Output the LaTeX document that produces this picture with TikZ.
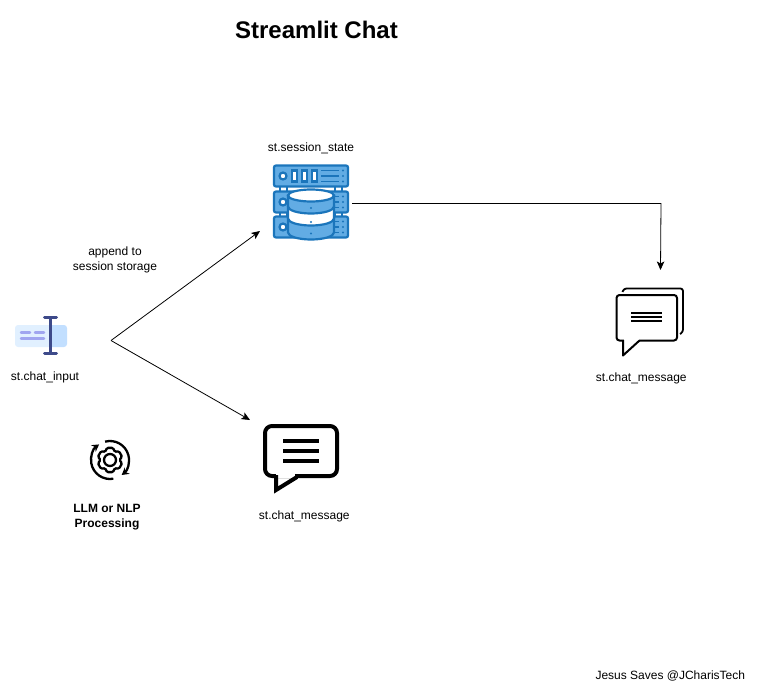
\documentclass[tikz,border=0pt]{standalone}
\usepackage{fontspec}
\setmainfont{Liberation Sans}
\usetikzlibrary{arrows.meta}
\definecolor{rackline}{HTML}{1B75BB}
\definecolor{rackfill}{HTML}{62ACE4}
\definecolor{inputlight}{HTML}{E1F0FF}
\definecolor{inputdark}{HTML}{C2DFFF}
\definecolor{inputbar}{HTML}{3D4A8A}
\definecolor{inputtext}{HTML}{A0A6F0}
\tikzset{
label text/.style = { black, font = \fontsize{12}{15}\selectfont, align = center, inner sep = 0pt },
spot/.style = { draw = none, fill = none, inner sep = 0pt, outer sep = 0pt },
flow/.style = { black, line width = 0.8pt, -{Stealth[length = 8.5pt, width = 7.5pt, inset = 2pt]} },
}
\tikzset{
pics/server/.style = {
        code = {
        \foreach \x in {-31, 24} {
            \path[draw = rackline, fill = white, line width = 1.5pt] (\x, -17) rectangle (\x + 7, -12);
            \path[draw = rackline, fill = white, line width = 1.5pt] (\x, 8) rectangle (\x + 7, 13);
        }
        \foreach \y in {-38, -12, 13} {
            \path[draw = rackline, fill = rackfill, line width = 2.2pt, rounded corners = 2pt] (-37, \y) rectangle (37, \y + 21);
            \path[draw = rackline, fill = white, line width = 2.2pt] (-28, \y + 10.5) circle (3.5);
            \foreach \x in {-19, -9, 1} {
                \path[draw = rackline, fill = white, line width = 2.2pt] (\x, \y + 5) rectangle (\x + 5, \y + 16);
            }
            \foreach \z in {5, 10.5, 16} {
                \path[draw = rackline, line width = 1.3pt] (10, \y + \z) -- (28, \y + \z);
                \path[fill = rackline] (32, \y + \z) circle (1.1);
            }
        }
        \path[draw = rackline, fill = rackfill, line width = 2.2pt] (-23, 14) -- (-23, 29) arc[start angle = 180, end angle = 0, x radius = 23, y radius = 7] -- (23, 14) -- cycle;
        \path[draw = rackline, fill = white, line width = 2.2pt] (-23, 3) -- (-23, 15) arc[start angle = 180, end angle = 0, x radius = 23, y radius = 7] -- (23, 3) -- cycle;
        \path[draw = rackline, fill = rackfill, line width = 2.2pt] (-23, -8) -- (-23, 3) arc[start angle = 180, end angle = 0, x radius = 23, y radius = 7] -- (23, -8) -- cycle;
        \path[draw = rackline, fill = white, line width = 2.2pt] (0, -8) ellipse (23 and 6);
        \foreach \y in {4.5, 18.5, 30} {
            \path[fill = rackline] (0, \y) circle (1.1);
        }
        }
    },
pics/input cursor/.style = {
        code = {
        \path[fill = inputlight, rounded corners = 3pt] (-26, -15) rectangle (10, 7);
        \path[fill = inputdark, rounded corners = 3pt] (5, -15) rectangle (26, 7);
        \path[fill = inputlight] (5, -15) rectangle (9, 7);
        \path[draw = inputtext, line width = 2.5pt, line cap = round] (-20, -7.5) -- (-11, -7.5) (-6, -7.5) -- (3, -7.5) (-20, -1.5) -- (3, -1.5);
        \path[draw = inputbar, line width = 3pt, line cap = round, line join = round] (9, -22) -- (9, 13) (3.5, -22.5) -- (15.5, -22.5) (3.5, 13) -- (15.5, 13);
        }
    },
pics/gear loop/.style = {
        code = {
        \path[draw = black, line width = 2.3pt, -{Stealth[length = 7pt, width = 8pt]}] (80:19) arc[start angle = 80, end angle = 235, radius = 19];
        \path[draw = black, line width = 2.3pt, -{Stealth[length = 7pt, width = 8pt]}] (255:19) arc[start angle = 255, end angle = 412, radius = 19];
        \path[draw = black, line width = 2.3pt, rounded corners = 1.2pt] (16:12.5) -- (44:12.5) \foreach \a in {60, 120, 180, 240, 300} { -- (\a:9.5) -- (\a + 16:12.5) -- (\a + 44:12.5) } -- (360:9.5) -- cycle;
        \path[draw = black, line width = 2.3pt] (0, 0) circle (6);
        }
    },
pics/big bubble/.style = {
        code = {
        \path[draw = black, line width = 4pt, line join = round, rounded corners = 7pt] (-36, -25) -- (36, -25) -- (36, 25) -- (-36, 25) -- cycle;
        \path[fill = white] (-25, 23) rectangle (-6, 27);
        \path[draw = black, line width = 4pt, line join = miter] (-25, 24) -- (-25, 39) -- (-4, 26);
        \foreach \y in {-10.3, -0.3, 9.7} {
            \path[draw = black, line width = 3.6pt] (-18, \y) -- (18, \y);
        }
        }
    },
pics/double bubble/.style = {
        code = {
        \path[draw = black, line width = 1.8pt, line join = round, rounded corners = 2.5pt] (-27.5, -30) -- (-26, -33.5) -- (33, -33.5) -- (33, 10) -- (30, 12);
        \path[draw = black, line width = 2pt, rounded corners = 3pt] (-33.5, -27) -- (27, -27) -- (27, 18.5) -- (-33.5, 18.5) -- cycle;
        \path[fill = white] (-26.5, 17) rectangle (-11, 20);
        \path[draw = black, line width = 2pt, line join = round] (-27, 18) -- (-27, 33.5) -- (-10.5, 18.5);
        \foreach \y in {-9, -5, -1} {
            \path[draw = black, line width = 1.8pt] (-19, \y) -- (12, \y);
        }
        }
    },
}
\begin{document}
\begin{tikzpicture}[x = 1pt, y = -1pt]
    \useasboundingbox (0, 0) rectangle (760, 690);
    % icons
    \node[spot, minimum width = 82pt, minimum height = 76pt] (sessionstate) at (311, 203.5) {};
    \node[spot, minimum width = 52pt, minimum height = 38pt] (chatinput) at (41, 340) {};
    \node[spot, minimum size = 40pt] (processing) at (110, 460) {};
    \node[spot, minimum width = 76pt, minimum height = 70pt] (usermessage) at (301, 451) {};
    \node[spot, minimum width = 70pt, minimum height = 68pt] (replymessage) at (650, 322) {};
    \draw (sessionstate) pic{server};
    \draw (chatinput) pic{input cursor};
    \draw (processing) pic{gear loop};
    \draw (usermessage) pic{big bubble};
    \draw (replymessage) pic{double bubble};
    % labels
    \node[font = \bfseries\fontsize{24}{28}\selectfont, inner sep = 0pt] (title) at (316.5, 30) {Streamlit Chat};
    \node[label text] (sessionlabel) at (311, 148) {st.session\_state};
    \node[label text] (appendlabel) at (115, 260) {append to\\session storage};
    \node[label text] (inputlabel) at (45, 377) {st.chat\_input};
    \node[label text, font = \bfseries\fontsize{12}{15}\selectfont] (llmlabel) at (107, 517) {LLM or NLP\\Processing};
    \node[label text] (usermessagelabel) at (304.3, 516) {st.chat\_message};
    \node[label text] (replymessagelabel) at (641.3, 378) {st.chat\_message};
    \node[label text] (footer) at (670.3, 676) {Jesus Saves @JCharisTech};
    % connectors
    \coordinate (inputout) at (111, 340.5);
    \coordinate (statein) at (260, 231);
    \coordinate (messagein) at (250, 420);
    \coordinate (replybend) at (661, 203.5);
    \coordinate (replyin) at (660.5, 270);
    \draw[flow] (inputout) -- (statein);
    \draw[flow] (inputout) -- (messagein);
    \draw[flow] (sessionstate.east) -- (replybend) -- (replyin);
\end{tikzpicture}
\end{document}
